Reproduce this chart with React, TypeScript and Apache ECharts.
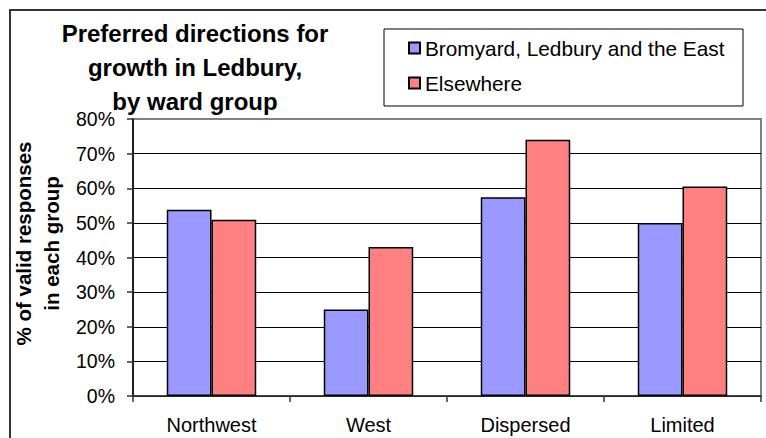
import React, { useEffect, useRef } from "react";
import * as echarts from "echarts";

const categories = ["Northwest", "West", "Dispersed", "Limited"];
const seriesNames = ["Bromyard, Ledbury and the East", "Elsewhere"];
const bromyardValues = [53.8, 25.0, 57.4, 50.0];
const elsewhereValues = [50.9, 43.0, 74.0, 60.5];
const titleLines = ["Preferred directions for", "growth in Ledbury,", "by ward group"];
const yAxisName = "% of valid responses\nin each group";

const FONT = '"Liberation Sans", Arial, sans-serif';

export default function App() {
  const ref = useRef<HTMLDivElement>(null);
  useEffect(() => {
    if (!ref.current) return;
    const chart = echarts.init(ref.current, undefined, { renderer: "svg" });
    const titleY = [33, 67, 101];
    chart.setOption({
      animation: false,
      backgroundColor: "#fff",
      textStyle: { fontFamily: FONT },
      grid: {
        left: 133,
        right: 5,
        top: 119,
        bottom: 42,
        outerBoundsMode: "none",
        containLabel: false,
        show: true,
        borderColor: "#808080",
        borderWidth: 2,
        backgroundColor: "transparent",
      },
      legend: {
        orient: "vertical",
        left: 408,
        top: 37,
        padding: 0,
        itemWidth: 11,
        itemHeight: 11,
        itemGap: 13,
        icon: "rect",
        textStyle: { fontSize: 20.8, lineHeight: 22, color: "#000", fontFamily: FONT },
        data: seriesNames,
      },
      xAxis: {
        type: "category",
        data: categories,
        axisLine: { lineStyle: { color: "#333", width: 1.5 } },
        axisTick: { show: true, length: 6, lineStyle: { color: "#333", width: 1.5 } },
        axisLabel: { fontSize: 20, color: "#000", margin: 19, fontFamily: FONT },
      },
      yAxis: {
        type: "value",
        min: 0,
        max: 80,
        interval: 10,
        name: yAxisName,
        nameLocation: "middle",
        nameRotate: 90,
        nameGap: 65,
        nameTextStyle: {
          fontSize: 20.5,
          fontWeight: "bold",
          lineHeight: 28,
          color: "#000",
          fontFamily: FONT,
          padding: [0, 0, 0, 28],
        },
        axisLine: { show: true, lineStyle: { color: "#000", width: 1.5 } },
        axisTick: { show: true, length: 6, lineStyle: { color: "#333", width: 1.5 } },
        axisLabel: { formatter: "{value}%", fontSize: 19.5, color: "#000", margin: 18, fontFamily: FONT },
        splitLine: {
          lineStyle: {
            color: ["#000", "#000", "#000", "#000", "#000", "#000", "#000", "#000", "#808080"],
            width: 1,
          },
        },
      },
      series: [
        {
          name: seriesNames[0],
          type: "bar",
          data: bromyardValues,
          barGap: "0%",
          barCategoryGap: "43%",
          itemStyle: { color: "#9999FF", borderColor: "#000", borderWidth: 1.5 },
        },
        {
          name: seriesNames[1],
          type: "bar",
          data: elsewhereValues,
          itemStyle: { color: "#FF8080", borderColor: "#000", borderWidth: 1.5 },
        },
      ],
      graphic: [
        {
          type: "rect",
          shape: { x: 10, y: 10, width: 800, height: 500 },
          style: { fill: "none", stroke: "#333", lineWidth: 2 },
          silent: true,
        },
        {
          type: "rect",
          shape: { x: 384, y: 29, width: 359, height: 77 },
          style: { fill: "none", stroke: "#000", lineWidth: 1 },
          silent: true,
        },
        ...titleLines.map((t, i) => ({
          type: "text",
          x: 195,
          y: titleY[i],
          style: {
            text: t,
            font: `bold 24px ${FONT}`,
            fill: "#000",
            align: "center",
            verticalAlign: "middle",
          },
        })),
      ],
    });
    return () => chart.dispose();
  }, []);
  return (
    <div
      ref={ref}
      style={{ position: "absolute", left: 0, top: 0, width: 766, height: 438 }}
    />
  );
}
